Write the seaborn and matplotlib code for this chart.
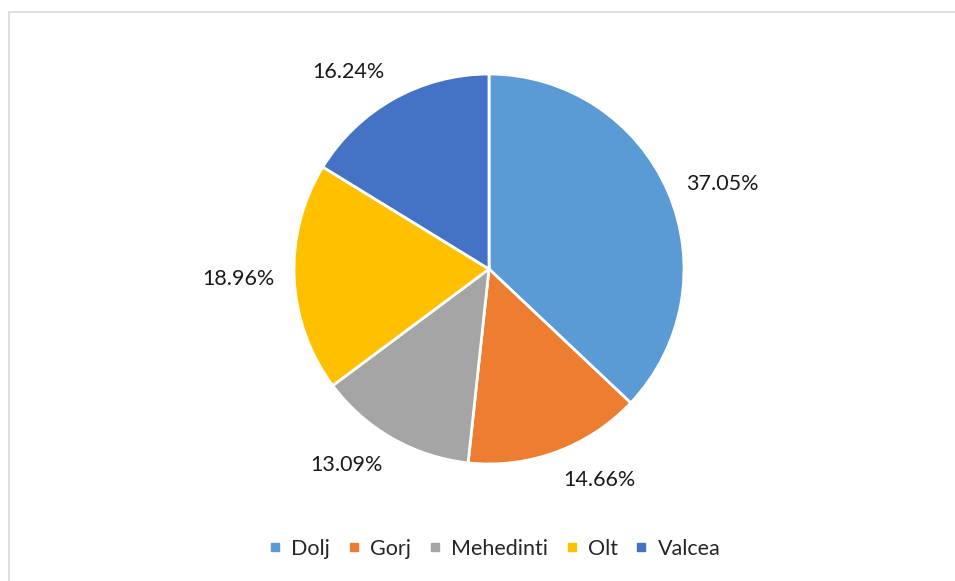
import matplotlib
matplotlib.use("Agg")
import numpy as np
import matplotlib.pyplot as plt
import seaborn as sns
from matplotlib.patches import Rectangle
from matplotlib.lines import Line2D

# Share of each county (percent)
counties = ['Dolj', 'Gorj', 'Mehedinti', 'Olt', 'Valcea']
shares = [37.05, 14.66, 13.09, 18.96, 16.24]
colors = ['#5B9BD5', '#ED7D31', '#A5A5A5', '#FFC000', '#4472C4']

sns.set_theme(style='white')
plt.rcParams['font.family'] = ['Lato', 'DejaVu Sans']

fig = plt.figure(figsize=(9.55, 5.81), dpi=100)
W, H = 955, 581

# light chart-area border
fig.patches.append(Rectangle((9 / W, -0.05), 1.1, 1 - 12 / H + 0.05, transform=fig.transFigure,
                             fill=False, edgecolor='#d9d9d9', lw=1.2, zorder=0))

ax = fig.add_axes([294 / W, 117 / H, 390 / W, 390 / H])
wedges, _ = ax.pie(
    shares, colors=sns.color_palette(colors), startangle=90, counterclock=False, radius=1,
    wedgeprops=dict(edgecolor='white', linewidth=2))

# "best fit" style labels just outside each slice
for w, val in zip(wedges, shares):
    mid = np.deg2rad((w.theta1 + w.theta2) / 2)
    c, s = np.cos(mid), np.sin(mid)
    ha = 'left' if c > 0 else 'right'
    if abs(s) < 0.5:
        va = 'center'
    else:
        va = 'bottom' if s > 0 else 'top'
    ax.text(1.1 * c, 1.1 * s, f'{val:.2f}%', ha=ha, va=va, fontsize=15.5, color='#1a1a1a')

ax.set_xlim(-1, 1)
ax.set_ylim(-1, 1)
ax.set_aspect('equal')
ax.axis('off')

handles = [Line2D([0], [0], marker='s', ls='none', markersize=6, markerfacecolor=c, markeredgecolor=c)
           for c in colors]
fig.legend(handles, counties, loc='center', bbox_to_anchor=(494 / W, 1 - 549 / H), ncol=5,
           frameon=False, fontsize=15.5, handlelength=0.7, handletextpad=0.4, columnspacing=0.75)

plt.savefig('out.png', dpi=100)
